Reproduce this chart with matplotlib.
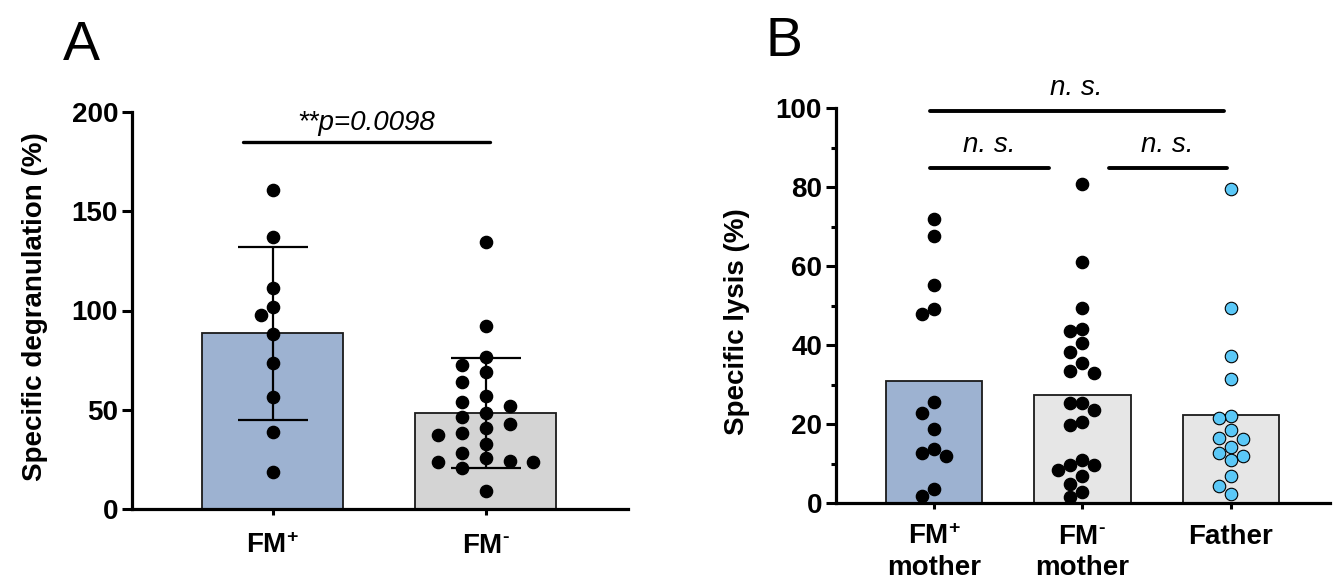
import numpy as np
import matplotlib
matplotlib.use('Agg')
import matplotlib.pyplot as plt

plt.rcParams['font.family'] = ['Liberation Sans', 'DejaVu Sans']
plt.rcParams['font.weight'] = 'bold'
plt.rcParams['mathtext.fontset'] = 'custom'
plt.rcParams['mathtext.rm'] = 'Liberation Sans:bold'
plt.rcParams['mathtext.bf'] = 'Liberation Sans:bold'
plt.rcParams['mathtext.it'] = 'Liberation Sans:italic'

# panel A - specific degranulation (%)
degran_labels = [r'$\mathbf{FM^{+}}$', r'$\mathbf{FM}^{\text{-}}$']
degran_fm_pos = [160.9, 137.2, 111.5, 101.8, 97.6, 88.3, 73.4, 56.6, 38.9, 18.5]
degran_fm_neg = [134.5, 92.0, 76.4, 72.5, 69.2, 63.8, 57.1, 54.1, 52.0, 48.5, 46.5,
                 42.7, 41.0, 38.1, 37.3, 32.6, 28.4, 25.5, 24.2, 23.8, 23.7, 20.8, 9.1]
degran_p = '**p=0.0098'

# panel B - specific lysis (%)
lysis_labels = [r'$\mathbf{FM^{+}}$' + '\nmother', r'$\mathbf{FM}^{\text{-}}$' + '\nmother', 'Father']
lysis_fm_pos = [71.8, 67.6, 55.3, 49.0, 47.8, 25.6, 22.8, 18.7, 13.6, 12.7, 11.8, 3.6, 1.7]
lysis_fm_neg = [80.8, 60.9, 49.3, 44.1, 43.5, 40.6, 38.2, 35.4, 33.4, 32.8, 25.2, 25.2,
                23.5, 20.4, 19.7, 10.8, 9.5, 9.5, 8.3, 6.8, 4.7, 2.9, 1.5]
lysis_father = [79.4, 49.3, 37.3, 31.5, 22.0, 21.4, 18.4, 16.5, 16.1, 14.2, 12.7,
                11.8, 10.8, 6.9, 4.2, 2.4]
lysis_ns = 'n. s.'


def swarm_x(ax, xc, vals, d, step):
    # simple beeswarm in pixel space, points of diameter d px, columns every step px
    vals = np.asarray(vals, float)
    xy = ax.transData.transform(np.column_stack([np.full(len(vals), xc), vals]))
    x0 = xy[0, 0]
    placed = []
    xs = np.empty(len(vals))
    for i in np.argsort(-vals, kind='stable'):
        y = xy[i, 1]
        k = 0
        found = None
        while found is None:
            for c in ([0] if k == 0 else [-k, k]):
                x = x0 + c * step
                if all((x - px) ** 2 + (y - py) ** 2 >= (d * 0.98) ** 2 for px, py in placed):
                    found = x
                    break
            k += 1
        placed.append((found, y))
        xs[i] = found
    return ax.transData.inverted().transform(np.column_stack([xs, xy[:, 1]]))[:, 0]


def style_axes(ax):
    for s in ['top', 'right']:
        ax.spines[s].set_visible(False)
    for s in ['left', 'bottom']:
        ax.spines[s].set_linewidth(2.3)
    ax.tick_params(axis='y', length=7, width=2.2, pad=3, labelsize=20)
    ax.tick_params(axis='x', length=4, width=2.2, pad=13, labelsize=20)
    for lbl in ax.get_yticklabels():
        lbl.set_fontweight('bold')


fig = plt.figure(figsize=(13.35, 5.85), dpi=100)

# ---------- A ----------
axA = fig.add_axes([132 / 1335, 1 - 509 / 585, 496 / 1335, 397 / 585])
axA.set_xlim(-0.66, 1.667)
axA.set_ylim(0, 200)
groupsA = [degran_fm_pos, degran_fm_neg]
xA = np.arange(len(groupsA))
meansA = [np.mean(g) for g in groupsA]
sdsA = [np.std(g, ddof=1) for g in groupsA]
axA.bar(xA, meansA, width=0.66, color=['#9db2d1', '#d4d4d4'], edgecolor='#1a1a1a',
        linewidth=1.3, zorder=1)
axA.errorbar(xA, meansA, yerr=sdsA, fmt='none', ecolor='black', elinewidth=1.6,
             capsize=25, capthick=1.6, zorder=2)
for i, g in enumerate(groupsA):
    xs = swarm_x(axA, xA[i], g, 12.5, 12 if i == 0 else 23.7)
    axA.plot(xs, g, 'o', ms=8.8, color='black', mec='black', zorder=3, clip_on=False)
axA.set_yticks([0, 50, 100, 150, 200])
axA.set_xticks(xA)
axA.set_xticklabels(degran_labels)
style_axes(axA)
axA.set_ylabel('Specific degranulation (%)', fontsize=20, fontweight='bold')
axA.yaxis.set_label_coords(-0.17, 0.51)
axA.plot([-0.14, 1.02], [184.7, 184.7], color='black', lw=2.4, solid_capstyle='round',
         clip_on=False)
axA.text(0.44, 191, degran_p, ha='center', va='baseline', fontsize=20,
         fontstyle='italic', fontweight='normal')

# ---------- B ----------
axB = fig.add_axes([836 / 1335, 1 - 503 / 585, 494 / 1335, 395 / 585])
axB.set_xlim(-0.66, 2.667)
axB.set_ylim(0, 100)
groupsB = [lysis_fm_pos, lysis_fm_neg, lysis_father]
xB = np.arange(len(groupsB))
meansB = [np.mean(g) for g in groupsB]
axB.bar(xB, meansB, width=0.65, color=['#9db2d1', '#e6e6e6', '#e6e6e6'],
        edgecolor='#1a1a1a', linewidth=1.3, zorder=1)
for i, g in enumerate(groupsB):
    xs = swarm_x(axB, xB[i], g, 12, 12)
    if i < 2:
        axB.plot(xs, g, 'o', ms=8.8, color='black', zorder=3, clip_on=False)
    else:
        axB.plot(xs, g, 'o', ms=9, mfc='#5bc8f7', mec='black', mew=0.8, zorder=3,
                 clip_on=False)
axB.set_yticks([0, 20, 40, 60, 80, 100])
axB.set_yticks(np.arange(10, 100, 20), minor=True)
axB.tick_params(axis='y', which='minor', length=3.5, width=2.2)
axB.set_xticks(xB)
axB.set_xticklabels(lysis_labels, linespacing=1.25)
style_axes(axB)
axB.tick_params(axis='x', pad=11)
axB.set_ylabel('Specific lysis (%)', fontsize=20, fontweight='bold')
axB.yaxis.set_label_coords(-0.175, 0.46)
brackets = [(-0.03, 1.95, 99.2), (-0.03, 0.774, 84.8), (1.178, 1.97, 84.8)]
for x1, x2, y in brackets:
    axB.plot([x1, x2], [y, y], color='black', lw=2.8, solid_capstyle='round',
             clip_on=False)
    axB.text((x1 + x2) / 2, y + 4, lysis_ns, ha='center', va='baseline', fontsize=20,
             fontstyle='italic', fontweight='normal')

fig.text(63 / 1335, 1 - 60 / 585, 'A', fontsize=40, fontweight='normal', ha='left',
         va='baseline')
fig.text(766 / 1335, 1 - 56 / 585, 'B', fontsize=40, fontweight='normal', ha='left',
         va='baseline')

fig.savefig('out.png', dpi=100, facecolor='white')
